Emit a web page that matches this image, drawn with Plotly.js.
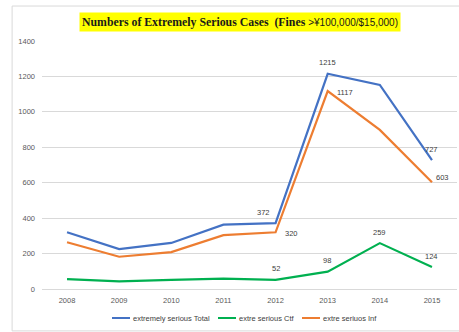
<!DOCTYPE html>
<html><head><meta charset="utf-8">
<script src="https://cdn.plot.ly/plotly-3.0.1.min.js"></script>
<style>html,body{margin:0;padding:0;background:#fff}#c{width:459px;height:332px}</style>
</head><body><div id="c"></div>
<script>
const years = ['2008','2009','2010','2011','2012','2013','2014','2015'];
const totalVals = [320, 225, 260, 363, 372, 1215, 1152, 727];
const ctfVals = [56, 43, 52, 59, 52, 98, 259, 124];
const infVals = [264, 182, 208, 304, 320, 1117, 898, 603];
const seriesNames = ['extremely serious Total', 'extre serious Ctf', 'extre seriuos Inf'];
const seriesColors = ['#4472C4', '#00B050', '#ED7D31'];
// which points carry a data label: [seriesIndex, yearIndex, placement]
const labelPoints = [
  [0, 4, 'left'], [0, 5, 'above'], [0, 7, 'above'],
  [1, 4, 'above'], [1, 5, 'aboveleft'], [1, 6, 'above'], [1, 7, 'above'],
  [2, 4, 'right'], [2, 5, 'right'], [2, 7, 'rightup']
];
const allVals = [totalVals, ctfVals, infVals];

const lblFont = {family: 'Liberation Sans, Arial', size: 7.5, color: '#404040'};
const data = allVals.map((v, i) => ({
  x: years, y: v, name: seriesNames[i], type: 'scatter', mode: 'lines',
  line: {color: seriesColors[i], width: 2.2}, hoverinfo: 'skip', showlegend: false
}));

const place = {
  above: {xanchor: 'center', yanchor: 'middle', xshift: 0, yshift: 11},
  aboveleft: {xanchor: 'center', yanchor: 'middle', xshift: -1, yshift: 11},
  left: {xanchor: 'right', yanchor: 'middle', xshift: -4, yshift: 11},
  right: {xanchor: 'left', yanchor: 'middle', xshift: 7, yshift: -1},
  rightup: {xanchor: 'left', yanchor: 'middle', xshift: 2, yshift: 5}
};
const annotations = labelPoints.map(([s, k, p]) => Object.assign({
  xref: 'x', yref: 'y', x: k, y: allVals[s][k], text: String(allVals[s][k]),
  showarrow: false, font: lblFont
}, place[p]));

annotations.push({
  xref: 'paper', yref: 'paper', x: 0.4765, y: 1.075, xanchor: 'center', yanchor: 'middle',
  showarrow: false, bgcolor: '#FFFF00', borderpad: 2,
  text: '<b>Numbers of Extremely Serious Cases  (Fines </b><span style="font-family:Liberation Sans;font-size:10px">&gt;¥100,000/$15,000)</span>',
  font: {family: 'Liberation Serif, Times New Roman', size: 11.8, color: '#1a1a1a'}
});

// legend drawn manually (swatch + text)
const legX = [112, 218, 302];
const shapes = [{type: 'rect', xref: 'paper', yref: 'paper', x0: -0.072, x1: 1.02, y0: -0.169, y1: 1.141,
  line: {color: '#d9d9d9', width: 1}, fillcolor: 'rgba(0,0,0,0)', layer: 'below'}];
const px = v => (v - 42) / 415, py = v => (289 - v) / 248;
seriesNames.forEach((n, i) => {
  shapes.push({type: 'line', xref: 'paper', yref: 'paper', x0: px(legX[i]), x1: px(legX[i] + 18),
    y0: py(318), y1: py(318), line: {color: seriesColors[i], width: 2}});
  annotations.push({xref: 'paper', yref: 'paper', x: px(legX[i] + 19), y: py(318), xanchor: 'left',
    yanchor: 'middle', showarrow: false, text: n,
    font: {family: 'Liberation Sans, Arial', size: 7.5, color: '#404040'}});
});

const layout = {
  width: 459, height: 332,
  margin: {l: 42, r: 2, t: 41, b: 43},
  paper_bgcolor: '#fff', plot_bgcolor: '#fff',
  showlegend: false,
  xaxis: {type: 'category', range: [-0.48, 7.48], showgrid: false, zeroline: false,
    showline: false, ticks: '', ticklabelstandoff: 5,
    tickfont: {family: 'Liberation Sans, Arial', size: 7.5, color: '#595959'}, fixedrange: true},
  yaxis: {range: [0, 1400], dtick: 200, showgrid: true, gridcolor: '#d9d9d9', gridwidth: 1,
    zeroline: true, zerolinecolor: '#d9d9d9', zerolinewidth: 1, showline: false, ticks: '',
    ticklabelstandoff: 6, tickfont: {family: 'Liberation Sans, Arial', size: 7.5, color: '#595959'},
    fixedrange: true},
  annotations: annotations,
  shapes: shapes
};
Plotly.newPlot('c', data, layout, {staticPlot: true, displayModeBar: false});
</script></body></html>
